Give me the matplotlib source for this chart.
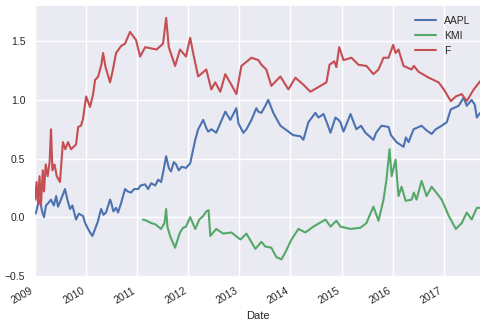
import pandas as pd
import matplotlib
matplotlib.use("Agg")
import matplotlib.pyplot as plt
import matplotlib.dates as mdates

# cumulative returns, read at irregular dates
aapl_dates = ["2009-01-02", "2009-01-08", "2009-01-20", "2009-02-05", "2009-02-20", "2009-03-06",
              "2009-03-20", "2009-04-05", "2009-04-25", "2009-05-15", "2009-06-01", "2009-06-14",
              "2009-07-05", "2009-08-03", "2009-08-20", "2009-09-08", "2009-09-25", "2009-10-21",
              "2009-11-10", "2009-12-10", "2009-12-25", "2010-01-15", "2010-01-29", "2010-02-15",
              "2010-03-06", "2010-03-25", "2010-04-18", "2010-05-05", "2010-05-23", "2010-06-08",
              "2010-06-21", "2010-06-28", "2010-07-15", "2010-08-03", "2010-08-17", "2010-09-08",
              "2010-10-06", "2010-10-25", "2010-11-18", "2010-12-10", "2011-01-08", "2011-01-25",
              "2011-02-27", "2011-03-20", "2011-04-11", "2011-05-10", "2011-05-31", "2011-06-21",
              "2011-07-05", "2011-07-27", "2011-08-15", "2011-08-31", "2011-09-20", "2011-10-06",
              "2011-10-25", "2011-11-15", "2011-12-16", "2012-01-15", "2012-02-20", "2012-03-12",
              "2012-04-17", "2012-05-09", "2012-05-23", "2012-06-15", "2012-07-19", "2012-08-17",
              "2012-09-22", "2012-10-28", "2012-12-10", "2012-12-25", "2013-01-29", "2013-02-20",
              "2013-03-28", "2013-05-02", "2013-05-16", "2013-06-07", "2013-07-05", "2013-07-26",
              "2013-08-31", "2013-10-21", "2013-11-25", "2013-12-17", "2014-01-20", "2014-03-13",
              "2014-04-03", "2014-05-09", "2014-06-28", "2014-07-20", "2014-08-25", "2014-09-20",
              "2014-10-14", "2014-11-18", "2014-12-10", "2014-12-24", "2015-01-15", "2015-03-06",
              "2015-04-17", "2015-05-20", "2015-06-21", "2015-08-17", "2015-09-05", "2015-10-13",
              "2015-12-03", "2015-12-20", "2016-01-29", "2016-03-19", "2016-04-05", "2016-04-24",
              "2016-05-30", "2016-07-26", "2016-08-31", "2016-10-06", "2016-11-04", "2016-12-17",
              "2017-01-22", "2017-02-20", "2017-04-17", "2017-05-23", "2017-06-14", "2017-07-19",
              "2017-08-10", "2017-08-25", "2017-09-18"]
aapl_vals = [0.03, 0.04, 0.10, 0.15, 0.05, 0.00,
             0.10, 0.12, 0.15, 0.10, 0.18, 0.09,
             0.15, 0.24, 0.15, 0.07, 0.10, -0.02,
             0.03, 0.01, -0.05, -0.10, -0.13, -0.16,
             -0.10, -0.04, 0.07, 0.02, 0.04, 0.10,
             0.15, 0.13, 0.05, 0.08, 0.04, 0.12,
             0.24, 0.22, 0.21, 0.24, 0.24, 0.27,
             0.28, 0.24, 0.29, 0.27, 0.32, 0.30,
             0.38, 0.52, 0.42, 0.39, 0.47, 0.45,
             0.40, 0.43, 0.42, 0.46, 0.66, 0.75,
             0.83, 0.76, 0.73, 0.75, 0.72, 0.80,
             0.90, 0.83, 0.93, 0.80, 0.72, 0.75,
             0.83, 0.93, 0.90, 0.89, 0.95, 1.00,
             0.89, 0.78, 0.75, 0.73, 0.70, 0.69,
             0.66, 0.81, 0.89, 0.85, 0.88, 0.80,
             0.72, 0.85, 0.83, 0.81, 0.73, 0.88,
             0.75, 0.78, 0.72, 0.66, 0.72, 0.78,
             0.77, 0.70, 0.64, 0.60, 0.68, 0.64,
             0.75, 0.78, 0.74, 0.71, 0.75, 0.78,
             0.81, 0.92, 0.95, 1.02, 0.95, 1.00,
             0.96, 0.85, 0.89]

kmi_dates = ["2011-02-11", "2011-03-10", "2011-04-11", "2011-05-10", "2011-06-21", "2011-07-15",
             "2011-07-27", "2011-08-05", "2011-08-24", "2011-09-29", "2011-10-20", "2011-11-03",
             "2011-11-25", "2011-12-16", "2012-01-15", "2012-02-20", "2012-03-20", "2012-04-17",
             "2012-05-09", "2012-05-25", "2012-06-07", "2012-07-19", "2012-09-08", "2012-11-04",
             "2013-01-08", "2013-02-20", "2013-04-25", "2013-06-07", "2013-07-05", "2013-08-17",
             "2013-09-22", "2013-10-28", "2013-11-25", "2014-01-08", "2014-02-27", "2014-04-17",
             "2014-06-14", "2014-09-08", "2014-10-14", "2014-11-25", "2014-12-24", "2015-03-06",
             "2015-05-16", "2015-06-28", "2015-07-26", "2015-08-17", "2015-09-22", "2015-10-28",
             "2015-11-18", "2015-12-10", "2015-12-25", "2016-01-22", "2016-02-12", "2016-03-05",
             "2016-04-03", "2016-05-16", "2016-06-01", "2016-06-20", "2016-07-26", "2016-08-31",
             "2016-10-06", "2016-12-17", "2017-02-06", "2017-03-28", "2017-05-09", "2017-06-14",
             "2017-07-19", "2017-08-25", "2017-09-18"]
kmi_vals = [-0.02, -0.03, -0.05, -0.06, -0.10, -0.05,
            0.07, -0.08, -0.16, -0.26, -0.18, -0.13,
            -0.09, -0.08, 0.00, -0.10, -0.02, 0.01,
            0.05, 0.06, -0.16, -0.10, -0.14, -0.13,
            -0.19, -0.14, -0.27, -0.21, -0.25, -0.26,
            -0.34, -0.36, -0.30, -0.19, -0.10, -0.13,
            -0.08, -0.02, -0.08, -0.03, -0.08, -0.10,
            -0.09, -0.05, 0.03, 0.09, -0.03, 0.15,
            0.32, 0.58, 0.35, 0.49, 0.18, 0.26,
            0.14, 0.15, 0.21, 0.15, 0.31, 0.18,
            0.26, 0.15, 0.01, -0.10, -0.05, 0.04,
            -0.02, 0.08, 0.08]

f_dates = ["2009-01-02", "2009-01-12", "2009-01-22", "2009-02-02", "2009-02-12", "2009-02-25",
           "2009-03-06", "2009-03-18", "2009-04-01", "2009-04-15", "2009-04-25", "2009-05-05",
           "2009-05-20", "2009-06-05", "2009-06-28", "2009-07-19", "2009-08-05", "2009-08-25",
           "2009-09-15", "2009-10-21", "2009-11-05", "2009-11-25", "2009-12-10", "2010-01-01",
           "2010-01-29", "2010-02-20", "2010-03-06", "2010-03-28", "2010-04-20", "2010-05-02",
           "2010-05-20", "2010-06-21", "2010-07-10", "2010-08-03", "2010-09-08", "2010-10-06",
           "2010-11-11", "2010-12-24", "2011-01-22", "2011-02-27", "2011-04-10", "2011-05-20",
           "2011-07-05", "2011-07-27", "2011-08-15", "2011-09-29", "2011-11-03", "2011-12-16",
           "2012-01-15", "2012-02-05", "2012-03-12", "2012-05-09", "2012-06-14", "2012-07-12",
           "2012-08-17", "2012-09-22", "2012-11-04", "2012-12-10", "2013-01-15", "2013-03-28",
           "2013-05-16", "2013-06-07", "2013-07-12", "2013-08-17", "2013-10-21", "2013-12-17",
           "2014-02-05", "2014-04-03", "2014-05-23", "2014-08-03", "2014-09-15", "2014-10-07",
           "2014-11-10", "2014-11-25", "2014-12-15", "2015-01-15", "2015-03-13", "2015-05-02",
           "2015-06-28", "2015-08-17", "2015-09-22", "2015-10-28", "2015-12-03", "2016-01-05",
           "2016-01-22", "2016-02-12", "2016-03-19", "2016-05-16", "2016-06-01", "2016-07-05",
           "2016-09-15", "2016-11-25", "2017-01-01", "2017-02-20", "2017-03-28", "2017-05-09",
           "2017-06-14", "2017-08-03", "2017-09-18"]
f_vals = [0.15, 0.30, 0.12, 0.35, 0.10, 0.40,
          0.22, 0.45, 0.35, 0.47, 0.75, 0.40,
          0.45, 0.35, 0.30, 0.64, 0.58, 0.64,
          0.58, 0.62, 0.77, 0.78, 0.84, 1.03,
          0.94, 1.05, 1.17, 1.20, 1.30, 1.40,
          1.28, 1.15, 1.25, 1.40, 1.46, 1.48,
          1.58, 1.51, 1.37, 1.45, 1.44, 1.43,
          1.48, 1.70, 1.45, 1.29, 1.43, 1.37,
          1.53, 1.40, 1.20, 1.26, 1.09, 1.15,
          1.07, 1.22, 1.13, 1.05, 1.29, 1.36,
          1.34, 1.30, 1.26, 1.12, 1.20, 1.09,
          1.19, 1.13, 1.07, 1.12, 1.15, 1.30,
          1.33, 1.28, 1.45, 1.34, 1.36, 1.30,
          1.29, 1.22, 1.26, 1.36, 1.36, 1.47,
          1.40, 1.43, 1.29, 1.26, 1.29, 1.24,
          1.19, 1.15, 1.09, 0.99, 1.03, 1.05,
          0.99, 1.09, 1.16]

plt.style.use("seaborn-v0_8")

fig, ax = plt.subplots(figsize=(4.87, 3.23), dpi=100)
ax.plot(pd.to_datetime(aapl_dates), aapl_vals, color="#4C72B0", lw=1.5, label="AAPL")
ax.plot(pd.to_datetime(kmi_dates), kmi_vals, color="#55A868", lw=1.5, label="KMI")
ax.plot(pd.to_datetime(f_dates), f_vals, color="#C44E52", lw=1.5, label="F")

# start on Jan 1 so the 2009 tick shows at the left edge
ax.set_xlim(pd.Timestamp("2009-01-01"), pd.Timestamp("2017-09-18"))
ax.set_ylim(-0.5, 1.8)
ax.set_yticks([-0.5, 0.0, 0.5, 1.0, 1.5])
ax.xaxis.set_major_locator(mdates.YearLocator())
ax.xaxis.set_major_formatter(mdates.DateFormatter("%Y"))
ax.tick_params(labelsize=7.5)
ax.set_xlabel("Date", fontsize=8)

fig.autofmt_xdate()
ax.legend(loc="upper right", fontsize=7.5, frameon=False)
fig.subplots_adjust(left=0.072, right=0.986, top=0.981, bottom=0.146)
fig.savefig("out.png", dpi=100)
